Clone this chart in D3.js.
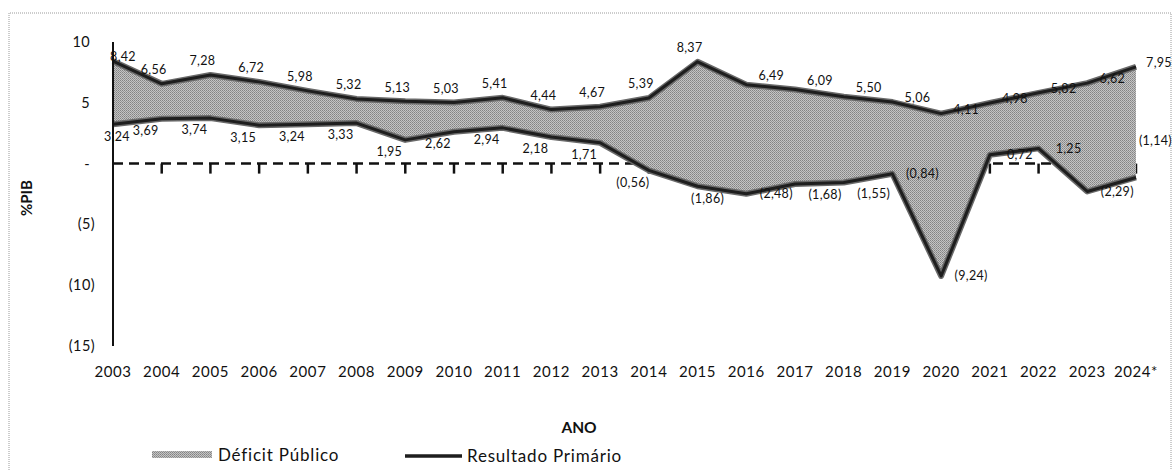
<!DOCTYPE html>
<html>
<head>
<meta charset="utf-8">
<script src="https://cdn.jsdelivr.net/npm/d3@7"></script>
<style>
  body { margin: 0; background: #fff; }
  text { font-family: Lato, "Open Sans", sans-serif; fill: #111; }
</style>
</head>
<body>
<script>
// categories and values (% of GDP)
var years = ["2003","2004","2005","2006","2007","2008","2009","2010","2011","2012","2013",
             "2014","2015","2016","2017","2018","2019","2020","2021","2022","2023","2024*"];
var deficitPublico = [8.42, 6.56, 7.28, 6.72, 5.98, 5.32, 5.13, 5.03, 5.41, 4.44, 4.67,
                      5.39, 8.37, 6.49, 6.09, 5.50, 5.06, 4.11, 4.98, 5.82, 6.62, 7.95];
var resultadoPrimario = [3.24, 3.69, 3.74, 3.15, 3.24, 3.33, 1.95, 2.62, 2.94, 2.18, 1.71,
                         -0.56, -1.86, -2.48, -1.68, -1.55, -0.84, -9.24, 0.72, 1.25, -2.29, -1.14];
var yTicks = [10, 5, 0, -5, -10, -15];

var w = 1173, h = 470;

var svg = d3.select("body")
            .append("svg")
            .attr("width", w)
            .attr("height", h);

// dithered grey like the scanned fill
var defs = svg.append("defs");
var pat = defs.append("pattern")
              .attr("id", "dither")
              .attr("width", 2)
              .attr("height", 2)
              .attr("patternUnits", "userSpaceOnUse");
pat.append("rect").attr("width", 2).attr("height", 2).attr("fill", "#c4c4c4");
pat.append("rect").attr("width", 1).attr("height", 1).attr("fill", "#838383");
pat.append("rect").attr("x", 1).attr("y", 1).attr("width", 1).attr("height", 1).attr("fill", "#959595");

// dotted outer frame
svg.append("path")
   .attr("d", "M9,470 L9,13 L1171,13 L1171,470")
   .attr("fill", "none")
   .attr("stroke", "#9a9a9a")
   .attr("stroke-width", 1)
   .attr("stroke-dasharray", "1,1");

var x = d3.scalePoint()
          .domain(years)
          .range([113, 1136]);

var y = d3.scaleLinear()
          .domain([-15, 10])
          .range([346, 42]);

function fmt(v) {
  var s = Math.abs(v).toFixed(2).replace(".", ",");
  return v < 0 ? "(" + s + ")" : s;
}

function fmtTick(v) {
  if (v === 0) return "-";
  return v < 0 ? "(" + Math.abs(v) + ")" : String(v);
}

var last = years.length - 1;
var rows = years.map(function(d, i) {
  return { year: d, i: i, top: deficitPublico[i], bottom: resultadoPrimario[i] };
});

// dashed zero line with downward ticks (sits under the area)
var zeroAxis = svg.append("g");
zeroAxis.append("line")
        .attr("x1", x(years[0]))
        .attr("x2", x(years[last]))
        .attr("y1", y(0))
        .attr("y2", y(0))
        .attr("stroke", "#111")
        .attr("stroke-width", 2.5)
        .attr("stroke-dasharray", "10,6");
zeroAxis.selectAll("line.tick")
        .data(years.slice(1))
        .enter()
        .append("line")
        .attr("class", "tick")
        .attr("x1", function(d) { return x(d); })
        .attr("x2", function(d) { return x(d); })
        .attr("y1", y(0))
        .attr("y2", y(0) + 10)
        .attr("stroke", "#111")
        .attr("stroke-width", 2.5);

// area between the two series
var area = d3.area()
             .x(function(d) { return x(d.year); })
             .y0(function(d) { return y(d.bottom); })
             .y1(function(d) { return y(d.top); });

svg.append("path")
   .datum(rows)
   .attr("d", area)
   .attr("fill", "url(#dither)");

var lineTop = d3.line()
                .x(function(d) { return x(d.year); })
                .y(function(d) { return y(d.top); });
var lineBottom = d3.line()
                   .x(function(d) { return x(d.year); })
                   .y(function(d) { return y(d.bottom); });

[lineTop, lineBottom].forEach(function(gen) {
  svg.append("path")
     .datum(rows)
     .attr("d", gen)
     .attr("fill", "none")
     .attr("stroke", "#6a6a6a")
     .attr("stroke-width", 6)
     .attr("stroke-linejoin", "round");
  svg.append("path")
     .datum(rows)
     .attr("d", gen)
     .attr("fill", "none")
     .attr("stroke", "#1e1e1e")
     .attr("stroke-width", 3)
     .attr("stroke-linejoin", "round");
});

// vertical axis line
svg.append("line")
   .attr("x1", x(years[0]))
   .attr("x2", x(years[0]))
   .attr("y1", y(10))
   .attr("y2", y(-15))
   .attr("stroke", "#111")
   .attr("stroke-width", 2);

// y tick labels
svg.selectAll("text.ytick")
   .data(yTicks)
   .enter()
   .append("text")
   .attr("class", "ytick")
   .attr("x", function(d) { return d < 0 ? 95 : 90; })
   .attr("y", function(d) { return y(d); })
   .attr("dy", "0.35em")
   .attr("text-anchor", "end")
   .style("font-size", "14.5px")
   .style("letter-spacing", "0.4px")
   .text(fmtTick);

// year labels along the bottom
svg.selectAll("text.xtick")
   .data(years)
   .enter()
   .append("text")
   .attr("class", "xtick")
   .attr("x", function(d) { return x(d); })
   .attr("y", 372)
   .attr("dy", "0.35em")
   .attr("text-anchor", "middle")
   .style("font-size", "15px")
   .style("letter-spacing", "0.6px")
   .text(function(d) { return d; });

// data labels: above/below in the early years, to the right later on
svg.selectAll("text.ltop")
   .data(rows)
   .enter()
   .append("text")
   .attr("class", "ltop")
   .attr("x", function(d) {
     if (d.i === 0) return x(d.year) + 10;
     if (d.i === last) return x(d.year) + 23;
     return x(d.year) + (d.i < 13 ? -8 : 25);
   })
   .attr("y", function(d) {
     if (d.i === 0) return y(d.top) - 5;
     if (d.i >= 13 && d.i <= 15) return y(d.top) - 9;
     return y(d.top) + (d.i < 13 ? -14 : -4);
   })
   .attr("dy", "0.35em")
   .attr("text-anchor", "middle")
   .style("font-size", "12.5px")
   .style("letter-spacing", "0.3px")
   .text(function(d) { return fmt(d.top); });

svg.selectAll("text.lbot")
   .data(rows)
   .enter()
   .append("text")
   .attr("class", "lbot")
   .attr("x", function(d) {
     if (d.i === 0) return x(d.year) + 4;
     if (d.i === last) return w - 1;
     return x(d.year) + (d.i < 12 ? -16 : d.i === 12 ? 10 : 30);
   })
   .attr("y", function(d) {
     if (d.i === last) return y(d.bottom) - 37;
     if (d.i === 14 || d.i === 15) return y(d.bottom) + 11;
     return y(d.bottom) + (d.i < 13 ? 12 : 0);
   })
   .attr("dy", "0.35em")
   .attr("text-anchor", function(d) { return d.i === last ? "end" : "middle"; })
   .style("font-size", "12.5px")
   .style("letter-spacing", "0.3px")
   .text(function(d) { return fmt(d.bottom); });

// axis titles
svg.append("text")
   .attr("transform", "translate(27,198) rotate(-90)")
   .attr("dy", "0.35em")
   .attr("text-anchor", "middle")
   .style("font-size", "15px")
   .style("font-weight", "bold")
   .text("%PIB");

svg.append("text")
   .attr("x", 579)
   .attr("y", 428)
   .attr("dy", "0.35em")
   .attr("text-anchor", "middle")
   .style("font-size", "15.5px")
   .style("font-weight", "bold")
   .text("ANO");

// legend
var legend = svg.append("g");
legend.append("rect")
      .attr("x", 152)
      .attr("y", 451)
      .attr("width", 60)
      .attr("height", 7)
      .attr("fill", "url(#dither)");
legend.append("text")
      .attr("x", 218)
      .attr("y", 455)
      .attr("dy", "0.35em")
      .style("font-size", "17px")
      .style("letter-spacing", "0.8px")
      .text("Déficit Público");
legend.append("line")
      .attr("x1", 405)
      .attr("x2", 462)
      .attr("y1", 456)
      .attr("y2", 456)
      .attr("stroke", "#555")
      .attr("stroke-width", 4);
legend.append("line")
      .attr("x1", 405)
      .attr("x2", 462)
      .attr("y1", 456)
      .attr("y2", 456)
      .attr("stroke", "#1e1e1e")
      .attr("stroke-width", 2);
legend.append("text")
      .attr("x", 467)
      .attr("y", 456)
      .attr("dy", "0.35em")
      .style("font-size", "17px")
      .style("letter-spacing", "0.8px")
      .text("Resultado Primário");
</script>
</body>
</html>
